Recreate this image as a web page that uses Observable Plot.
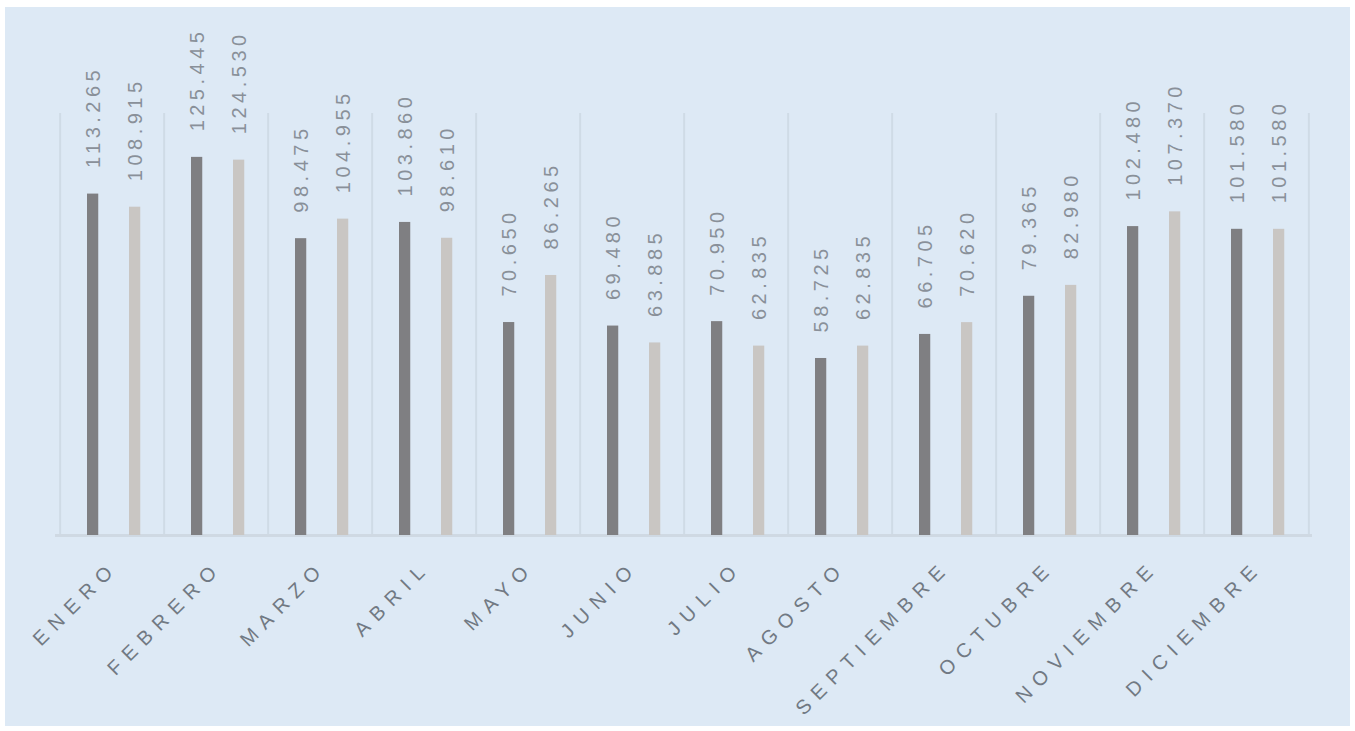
<!DOCTYPE html>
<html>
<head>
<meta charset="utf-8">
<script src="https://cdn.jsdelivr.net/npm/d3@7"></script>
<script src="https://cdn.jsdelivr.net/npm/@observablehq/plot@0.6"></script>
<style>
  html, body { margin: 0; padding: 0; background: #ffffff; }
  #frame {
    position: absolute; left: 5px; top: 7px; width: 1345px; height: 719px;
    background: #dde9f5; overflow: hidden;
  }
  #frame svg { display: block; background: transparent; font-family: "Liberation Sans", Arial, sans-serif; }
</style>
</head>
<body>
<div id="frame"></div>
<script>
const months = ["ENERO", "FEBRERO", "MARZO", "ABRIL", "MAYO", "JUNIO", "JULIO", "AGOSTO", "SEPTIEMBRE", "OCTUBRE", "NOVIEMBRE", "DICIEMBRE"];
const seriesA = [113265, 125445, 98475, 103860, 70650, 69480, 70950, 58725, 66705, 79365, 102480, 101580];
const seriesB = [108915, 124530, 104955, 98610, 86265, 63885, 62835, 62835, 70620, 82980, 107370, 101580];

const fmt = d3.formatLocale({decimal: ",", thousands: ".", grouping: [3], currency: ["", ""]}).format(",d");

const dataA = months.map((m, i) => ({month: m, value: seriesA[i]}));
const dataB = months.map((m, i) => ({month: m, value: seriesB[i]}));

const W = 1345, H = 719;
const mL = 50, mR = 38, mT = 106, mB = 191;
const step = (W - mL - mR) / months.length;
const barW = 12;
const offA = 33, offB = 75; // bar centers within each band
const dxA = offA - step / 2, dxB = offB - step / 2;

const chart = Plot.plot({
  width: W, height: H,
  marginLeft: mL, marginRight: mR, marginTop: mT, marginBottom: mB,
  x: {type: "band", domain: months, padding: 0, axis: null},
  y: {domain: [0, 140000], axis: null},
  marks: [
    Plot.ruleX(months, {x: d => d, y1: 0, y2: 140000, dx: -step / 2, stroke: "#cfdbe6", strokeWidth: 2}),
    Plot.ruleX([months[months.length - 1]], {x: d => d, y1: 0, y2: 140000, dx: step / 2, stroke: "#cfdbe6", strokeWidth: 2}),
    Plot.ruleY([0], {stroke: "#cfd9e3", strokeWidth: 3}),
    Plot.barY(dataA, {x: "month", y: "value", fill: "#7f7f82", insetLeft: offA - barW / 2, insetRight: step - offA - barW / 2}),
    Plot.barY(dataB, {x: "month", y: "value", fill: "#c9c6c3", insetLeft: offB - barW / 2, insetRight: step - offB - barW / 2}),
    Plot.text(dataA, {x: "month", y: "value", text: d => fmt(d.value), rotate: -90, textAnchor: "start", dx: dxA, dy: -26, fontSize: 20, fill: "#899099"}),
    Plot.text(dataB, {x: "month", y: "value", text: d => fmt(d.value), rotate: -90, textAnchor: "start", dx: dxB, dy: -26, fontSize: 20, fill: "#899099"}),
    Plot.text(months, {x: d => d, frameAnchor: "bottom", text: d => d, rotate: -45, textAnchor: "end", dx: 7, dy: 33, fontSize: 20, fill: "#717983"})
  ]
});
const spacings = ["4.5px", "4.5px", "8px"];
d3.select(chart).selectAll('g[aria-label="text"]').each(function(d, i) {
  d3.select(this).selectAll("text").style("letter-spacing", spacings[i] || "0px");
});
document.getElementById("frame").appendChild(chart);
</script>
</body>
</html>
